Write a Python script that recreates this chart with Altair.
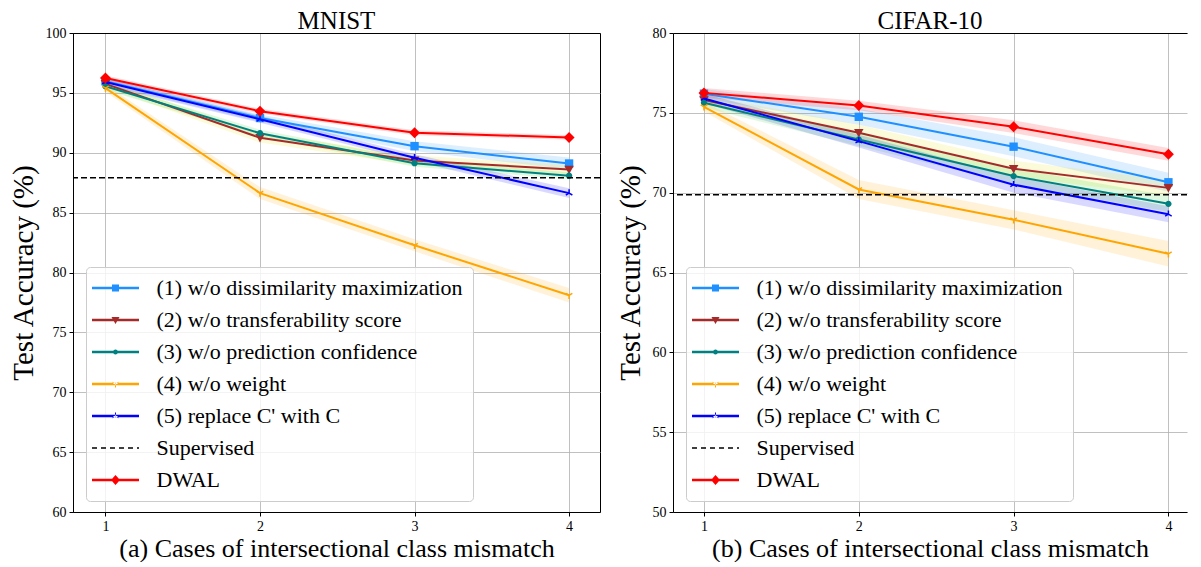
import math
import altair as alt
import pandas as pd

FONT = "Liberation Serif"

series = ["(1) w/o dissimilarity maximization", "(2) w/o transferability score",
          "(3) w/o prediction confidence", "(4) w/o weight", "(5) replace C' with C",
          "Supervised", "DWAL"]
line_colors = ["#1E90FF", "#A52A2A", "#008080", "#FFA500", "#0000FF", "#000000", "#FF0000"]
band_colors = ["#1E90FF", "#E6E600", "#32CD32", "#FFA500", "#0000FF", "#000000", "#FF0000"]

cases = [1, 2, 3, 4]

# MNIST
mnist_vals = {
    series[0]: [95.97, 92.9, 90.55, 89.1],
    series[1]: [95.75, 91.25, 89.36, 88.6],
    series[2]: [95.55, 91.63, 89.13, 88.08],
    series[3]: [95.4, 86.63, 82.27, 78.1],
    series[4]: [95.9, 92.8, 89.58, 86.63],
    series[6]: [96.25, 93.47, 91.67, 91.28],
}
mnist_err = {
    series[0]: [0.3, 0.3, 0.4, 0.5],
    series[1]: [0.3, 0.4, 0.4, 0.4],
    series[2]: [0.3, 0.3, 0.3, 0.3],
    series[3]: [0.3, 0.5, 0.5, 0.6],
    series[4]: [0.3, 0.3, 0.3, 0.4],
    series[6]: [0.2, 0.2, 0.2, 0.2],
}
mnist_supervised = [87.92]

# CIFAR-10
cifar_vals = {
    series[0]: [76.2, 74.75, 72.88, 70.65],
    series[1]: [75.8, 73.75, 71.5, 70.3],
    series[2]: [75.63, 73.33, 71.04, 69.3],
    series[3]: [75.38, 70.2, 68.3, 66.17],
    series[4]: [75.9, 73.23, 70.5, 68.65],
    series[6]: [76.25, 75.46, 74.13, 72.4],
}
cifar_err = {
    series[0]: [0.3, 0.5, 0.6, 0.6],
    series[1]: [0.3, 0.5, 0.5, 0.5],
    series[2]: [0.3, 0.4, 0.5, 0.5],
    series[3]: [0.3, 0.6, 0.6, 0.8],
    series[4]: [0.3, 0.4, 0.5, 0.5],
    series[6]: [0.3, 0.3, 0.4, 0.4],
}
cifar_supervised = [69.87]

# marker shapes (plot)
marker_paths = {
    series[0]: ("M-1,-1H1V1H-1Z", 70, True),
    series[1]: ("M-1,-0.8L1,-0.8L0,1Z", 90, True),
    series[2]: ("M1,0A1,1,0,1,1,-1,0A1,1,0,1,1,1,0Z", 40, True),
    series[3]: ("M0,0L0,1M0,0L-0.87,-0.5M0,0L0.87,-0.5", 56, False),
    series[4]: ("M0,0L0,-1M0,0L-0.87,0.5M0,0L0.87,0.5", 56, False),
    series[6]: ("M0,-1L1,0L0,1L-1,0Z", 120, True),
}


# legend glyphs (filled outlines: line + marker), unit = 10px
def rect(x0, x1, h=0.12):
    return f"M{x0},{-h}H{x1}V{h}H{x0}Z"


def spokes(dirs, r=0.35, w=0.05):
    out = ""
    for ang in dirs:
        dx, dy = math.cos(ang), math.sin(ang)
        px, py = -dy * w, dx * w
        ex, ey = dx * r, dy * r
        out += (f"M{px:.3f},{py:.3f}L{ex + px:.3f},{ey + py:.3f}"
                f"L{ex - px:.3f},{ey - py:.3f}L{-px:.3f},{-py:.3f}Z")
    return out


LINE = rect(-2.35, 2.35)
legend_paths = [
    LINE + "M-0.35,-0.35H0.35V0.35H-0.35Z",
    LINE + "M-0.4,-0.3L0.4,-0.3L0,0.4Z",
    LINE + "M0.25,0A0.25,0.25,0,1,1,-0.25,0A0.25,0.25,0,1,1,0.25,0Z",
    LINE + spokes([math.pi / 2, math.pi * 7 / 6, -math.pi / 6]),
    LINE + spokes([-math.pi / 2, math.pi * 5 / 6, math.pi / 6]),
    "".join(rect(a, b, 0.07) for a, b in
            [(-2.35, -1.85), (-1.45, -0.95), (-0.55, -0.05), (0.35, 0.85), (1.25, 1.75), (2.15, 2.35)]),
    LINE + "M0,-0.5L0.45,0L0,0.5L-0.45,0Z",
]


def make_panel(vals, errs, sup, title, xtitle, ydomain, yticks, xdomain, width, height, view_stroke):
    rows = []
    for s, v in vals.items():
        for c, y, e in zip(cases, v, errs[s]):
            rows.append({"case": c, "acc": y, "lo": y - e, "hi": y + e, "series": s})
    df = pd.DataFrame(rows)

    xs = alt.Scale(domain=xdomain, nice=False, zero=False)
    ys = alt.Scale(domain=ydomain, nice=False, zero=False)
    x = alt.X("case:Q", scale=xs,
              axis=alt.Axis(values=cases, format="d", title=xtitle, grid=True))
    y = alt.Y("acc:Q", scale=ys,
              axis=alt.Axis(values=yticks, title="Test Accuracy (%)", grid=True))

    layers = []
    order = [0, 1, 2, 3, 4, 6]
    for i in order:
        s = series[i]
        base = alt.Chart(df).transform_filter(alt.datum.series == s)
        layers.append(base.mark_area(color=band_colors[i], opacity=0.15).encode(
            x=x, y=alt.Y("lo:Q", scale=ys), y2="hi:Q"))
    for i in order:
        s = series[i]
        base = alt.Chart(df).transform_filter(alt.datum.series == s)
        layers.append(base.mark_line(color=line_colors[i], strokeWidth=2).encode(x=x, y=y))
        path, size, filled = marker_paths[s]
        if filled:
            pm = base.mark_point(shape=path, size=size, filled=True, color=line_colors[i], opacity=1)
        else:
            pm = base.mark_point(shape=path, size=size, filled=False, color=line_colors[i],
                                 strokeWidth=1.5, opacity=1)
        layers.append(pm.encode(x=x, y=y))

    sup_df = pd.DataFrame({"acc": sup})
    layers.append(alt.Chart(sup_df).mark_rule(color="black", strokeDash=[6, 3], strokeWidth=1.5)
                  .encode(y=alt.Y("acc:Q", scale=ys)))

    # legend layer (no visible marks)
    leg_df = pd.DataFrame({"series": series, "case": [1] * 7, "acc": [ydomain[0]] * 7})
    legend = alt.Legend(title=None, orient="none", legendX=13, legendY=234,
                        symbolSize=400, symbolStrokeWidth=0, symbolOffset=8.5, symbolOpacity=1,
                        labelOffset=30, labelFont=alt.ExprRef(expr="'Liberation Serif'"),
                        labelFontSize=22, labelLimit=500, labelColor="black",
                        rowPadding=10, padding=10, fillColor="rgba(255,255,255,0.8)",
                        strokeColor="#cccccc", cornerRadius=4)
    layers.append(alt.Chart(leg_df).transform_filter("false").mark_point(filled=True).encode(
        x=alt.X("case:Q", scale=xs), y=alt.Y("acc:Q", scale=ys),
        color=alt.Color("series:N", scale=alt.Scale(domain=series, range=line_colors), legend=legend),
        shape=alt.Shape("series:N", scale=alt.Scale(domain=series, range=legend_paths), legend=legend),
    ))

    main = alt.layer(*layers)
    top = alt.Chart(pd.DataFrame({"case": [1]})).transform_filter("false").mark_point().encode(
        x=alt.X("case:Q", scale=xs,
                axis=alt.Axis(orient="top", labels=False, ticks=False, title=None,
                              grid=False, domain=True, domainColor="black", domainWidth=1)))
    return alt.layer(main, top).resolve_axis(x="independent").properties(
        width=width, height=height,
        view=alt.ViewBackground(stroke=view_stroke),
        title=alt.TitleParams(title, font=FONT, fontSize=25, fontWeight="normal", offset=-8,
                              color="black"),
    )


left = make_panel(mnist_vals, mnist_err, mnist_supervised, "MNIST",
                  "(a) Cases of intersectional class mismatch",
                  [60, 100], list(range(60, 101, 5)), [0.79, 4.2], 527, 479, "black")
right = make_panel(cifar_vals, cifar_err, cifar_supervised, "CIFAR-10",
                   "(b) Cases of intersectional class mismatch",
                   [50, 80], list(range(50, 81, 5)), [0.8, 4.12], 514, 479, "transparent")

chart = alt.hconcat(left, right, spacing=13).resolve_scale(
    color="independent", shape="independent"
).resolve_legend(
    color="independent", shape="independent"
).properties(padding=0).configure(
    font=FONT, style={"guide-label": {"font": FONT}}
).configure_view(
    stroke="black", strokeWidth=1
).configure_legend(labelFont=FONT, labelFontSize=22).configure_axis(
    labelFont=FONT, labelFontSize=14, labelColor="black", labelPadding=3,
    titleFont=FONT, titleFontSize=29, titleFontWeight="normal", titleColor="black",
    domainColor="black", tickColor="black", tickSize=4,
    gridColor="#b0b0b0", gridWidth=0.8,
).configure_axisY(titlePadding=7).configure_axisX(titleFontSize=26, titlePadding=2)

chart.save("out.html", embed_options={"renderer": "svg", "actions": False})
